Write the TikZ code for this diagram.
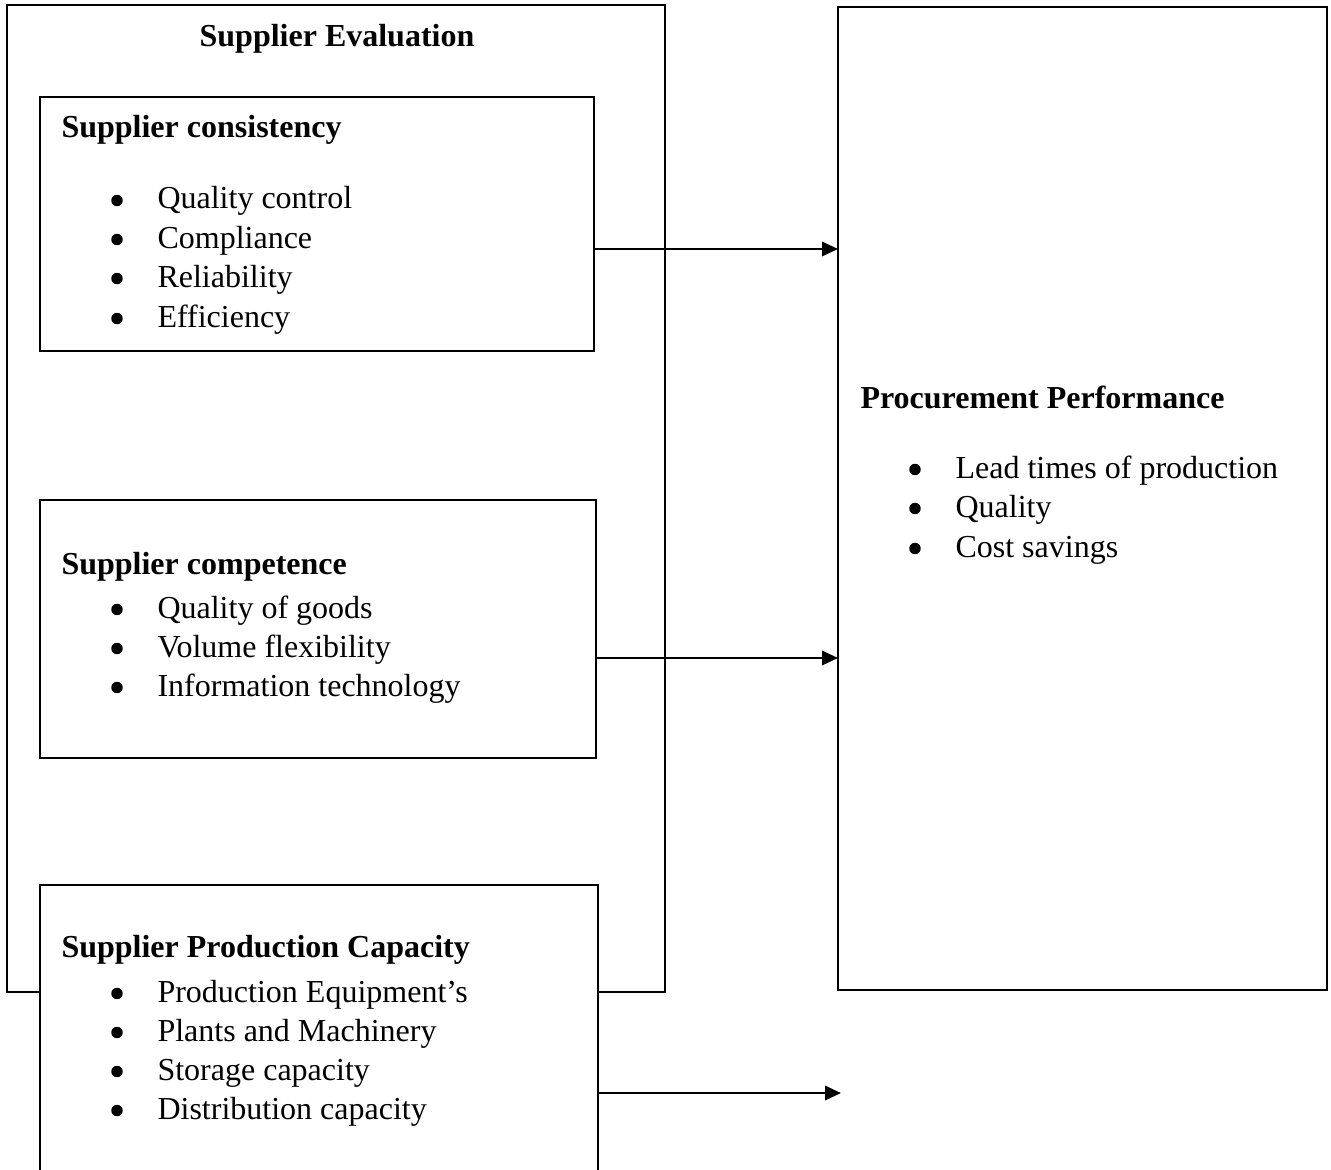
\documentclass[tikz,border=0pt]{standalone}
\usepackage{fontspec}
\setmainfont{Liberation Serif}
\usetikzlibrary{arrows.meta,calc}
\begin{document}
\begin{tikzpicture}[x=0.375pt,y=-0.375pt,
  box/.style={draw=black,line width=0.8pt,fill=white},
  hd/.style={anchor=base west,inner sep=0pt,font=\fontsize{12}{14}\selectfont\bfseries},
  it/.style={anchor=base west,inner sep=0pt,font=\fontsize{12}{14}\selectfont},
  bul/.style={circle,fill=black,inner sep=0pt,minimum size=4.3pt},
  arr/.style={line width=0.8pt,-{Triangle[length=6pt,width=5.4pt]}}]
\useasboundingbox (0,0) rectangle (1331,1170);
\clip (0,0) rectangle (1331,1170);
% outer box
\draw[box] (7,5) rectangle (665,992);
\node[anchor=base,inner sep=0pt,font=\fontsize{12}{14}\selectfont\bfseries] (se) at (337,47) {Supplier Evaluation};
% right box
\draw[box] (838,7) rectangle (1327,990);
\coordinate (ppnw) at (838,7);
\node[hd] (pp) at (860,408) {Procurement Performance};
\foreach \t/\y in {Lead times of production/478, Quality/517, Cost savings/557}{
  \node[bul] at (915,\y-8.5) {};
  \node[it] at (955,\y) {\t};
}
% box 1
\draw[box] (40,97) rectangle (594,351);
\coordinate (b1e) at (594,249);
\node[hd] (h1) at (61,138) {Supplier consistency};
\foreach \t/\y in {Quality control/209, Compliance/248, Reliability/287, Efficiency/327}{
  \node[bul] at (117,\y-8.5) {};
  \node[it] at (157,\y) {\t};
}
% box 2
\draw[box] (40,500) rectangle (596,758);
\coordinate (b2e) at (596,658);
\node[hd] (h2) at (61,574) {Supplier competence};
\foreach \t/\y in {Quality of goods/618, Volume flexibility/657, Information technology/696}{
  \node[bul] at (117,\y-8.5) {};
  \node[it] at (157,\y) {\t};
}
% box 3
\draw[box] (40,885) rectangle (598,1200);
\coordinate (b3e) at (598,1093);
\node[hd] (h3) at (61,957) {Supplier Production Capacity};
\foreach \t/\y in {Production Equipment’s/1002, Plants and Machinery/1041, Storage capacity/1080, Distribution capacity/1119}{
  \node[bul] at (117,\y-8.5) {};
  \node[it] at (157,\y) {\t};
}
\coordinate (end3) at (841,1093);
% arrows
\draw[arr] (b1e) -- (b1e -| ppnw);
\draw[arr] (b2e) -- (b2e -| ppnw);
\draw[arr] (b3e) -- (end3);
\end{tikzpicture}
\end{document}
